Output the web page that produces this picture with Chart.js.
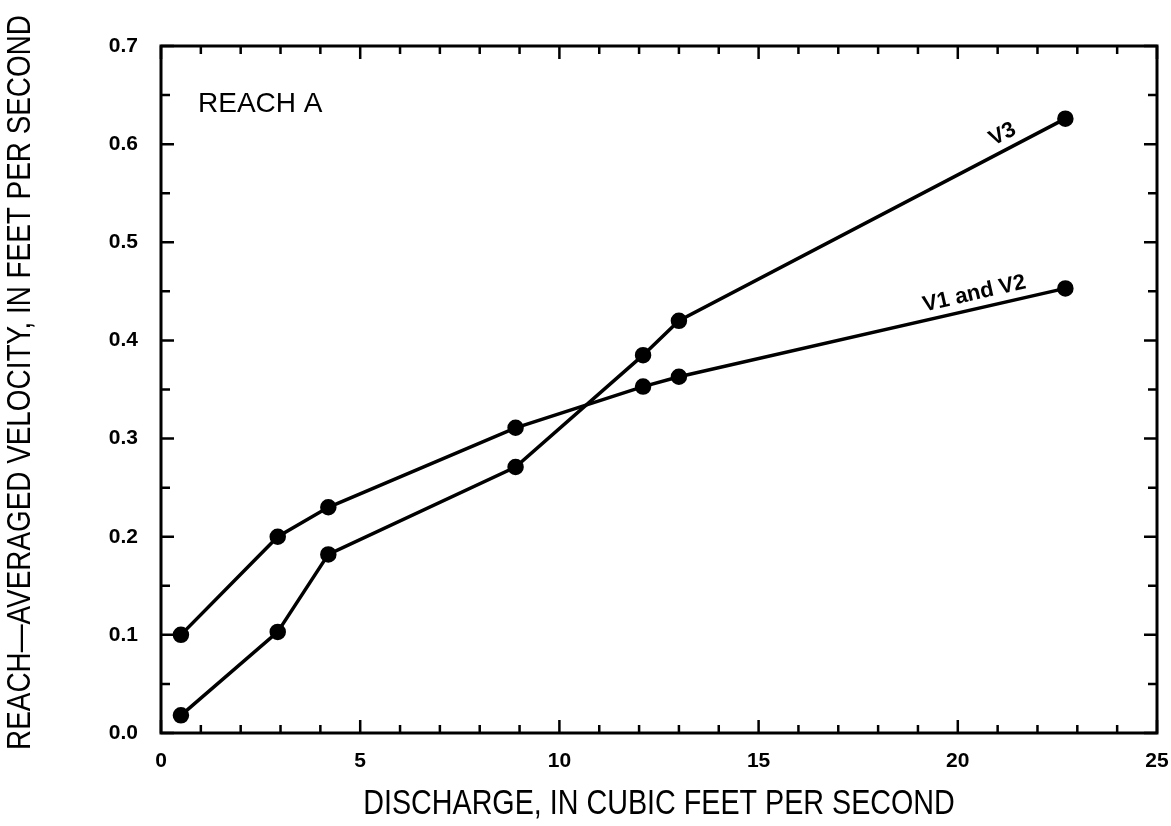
<!DOCTYPE html>
<html>
<head>
<meta charset="utf-8">
<script src="https://cdn.jsdelivr.net/npm/chart.js@4/dist/chart.umd.min.js"></script>
<style>
  html, body { margin: 0; padding: 0; background: #fff; }
  canvas { display: block; }
</style>
</head>
<body>
<canvas id="myChart" width="1171" height="826"></canvas>
<script>
// discharge (cfs) at the seven measured flows
const discharge = [0.5, 2.93, 4.2, 8.9, 12.1, 13.0, 22.7];
// reach-averaged velocity (ft/s)
const velocityV1V2 = [0.100, 0.200, 0.230, 0.311, 0.353, 0.363, 0.453];
const velocityV3 = [0.018, 0.103, 0.182, 0.271, 0.385, 0.420, 0.626];

const xTicks = [0, 5, 10, 15, 20, 25];
const yTicks = [0.0, 0.1, 0.2, 0.3, 0.4, 0.5, 0.6, 0.7];

const seriesNames = ['V1 and V2', 'V3'];
// where the curve labels sit along each line (discharge value)
const labelAt = [20.5, 21.3];

const xTitle = 'DISCHARGE, IN CUBIC FEET PER SECOND';
const yTitle = 'REACH\u2014AVERAGED VELOCITY, IN FEET PER SECOND';

const sansFont = '"Liberation Sans", Arial, sans-serif';

var ctx = document.getElementById('myChart').getContext('2d');

const toPoints = (ys) => discharge.map((x, i) => ({x: x, y: ys[i]}));

// frame + inward tick marks on all four sides
const frameTicks = {
    id: 'frameTicks',
    afterDatasetsDraw(chart) {
        const c = chart.ctx;
        const a = chart.chartArea;
        const xs = chart.scales.x, ys = chart.scales.y;
        c.save();
        c.strokeStyle = '#000';
        c.lineWidth = 3;
        c.lineCap = 'butt';
        c.strokeRect(a.left, a.top, a.right - a.left, a.bottom - a.top);

        c.lineWidth = 2.5;
        for (let v = 0; v <= 25; v++) {
            const len = v % 5 === 0 ? 13 : 8;
            const px = xs.getPixelForValue(v);
            c.beginPath();
            c.moveTo(px, a.bottom); c.lineTo(px, a.bottom - len);
            c.moveTo(px, a.top); c.lineTo(px, a.top + len);
            c.stroke();
        }
        for (let k = 0; k <= 14; k++) {
            const len = k % 2 === 0 ? 13 : 9;
            const py = ys.getPixelForValue(k * 0.05);
            c.beginPath();
            c.moveTo(a.left, py); c.lineTo(a.left + len, py);
            c.moveTo(a.right, py); c.lineTo(a.right - len, py);
            c.stroke();
        }
        c.restore();
    }
};

// condensed axis titles (no narrow face installed, so squeeze the regular one)
function narrowText(c, text, x, y, size, rot) {
    c.save();
    c.translate(x, y);
    c.rotate(rot);
    c.scale(0.82, 1);
    c.font = size + 'px ' + sansFont;
    c.textAlign = 'center';
    c.textBaseline = 'middle';
    c.fillText(text, 0, 0);
    c.restore();
}

// "REACH A", axis titles and the curve names written along the lines
const annotations = {
    id: 'annotations',
    afterDraw(chart) {
        const c = chart.ctx;
        const a = chart.chartArea;
        const xs = chart.scales.x, ys = chart.scales.y;
        c.save();
        c.fillStyle = '#000';

        narrowText(c, xTitle, (a.left + a.right) / 2, chart.height - 22, 35, 0);
        narrowText(c, yTitle, 21, (a.top + a.bottom) / 2 - 7, 34, -Math.PI / 2);

        c.font = '28px ' + sansFont;
        c.textBaseline = 'alphabetic';
        c.textAlign = 'left';
        c.fillText('REACH A', a.left + 37, a.top + 66);

        c.font = 'bold 22px ' + sansFont;
        c.textAlign = 'center';
        c.textBaseline = 'middle';
        const series = [velocityV1V2, velocityV3];
        series.forEach((vals, s) => {
            const xv = labelAt[s];
            let i = 0;
            while (i < discharge.length - 2 && discharge[i + 1] < xv) i++;
            const x0 = xs.getPixelForValue(discharge[i]), y0 = ys.getPixelForValue(vals[i]);
            const x1 = xs.getPixelForValue(discharge[i + 1]), y1 = ys.getPixelForValue(vals[i + 1]);
            const ang = Math.atan2(y1 - y0, x1 - x0);
            const px = xs.getPixelForValue(xv);
            const t = (px - x0) / (x1 - x0);
            const py = y0 + t * (y1 - y0);
            c.save();
            c.translate(px, py);
            c.rotate(ang);
            c.fillText(seriesNames[s], 0, -15);
            c.restore();
        });
        c.restore();
    }
};

const lineStyle = {
    borderColor: '#000',
    backgroundColor: '#000',
    borderWidth: 3.5,
    pointRadius: 6.5,
    pointHoverRadius: 6.5,
    showLine: true,
    fill: false,
    tension: 0
};

new Chart(ctx, {
    type: 'scatter',
    data: {
        datasets: [
            Object.assign({label: seriesNames[0], data: toPoints(velocityV1V2)}, lineStyle),
            Object.assign({label: seriesNames[1], data: toPoints(velocityV3)}, lineStyle)
        ]
    },
    options: {
        responsive: false,
        animation: false,
        layout: {padding: {top: 46, right: 14, left: 0, bottom: 0}},
        plugins: {legend: {display: false}, tooltip: {enabled: false}},
        scales: {
            x: {
                type: 'linear',
                min: 0,
                max: 25,
                afterFit: (scale) => {
                    scale.height = 93;
                    scale.paddingLeft = 0;
                    scale.paddingRight = 0;
                },
                afterBuildTicks: (scale) => { scale.ticks = xTicks.map(v => ({value: v})); },
                grid: {display: false, drawTicks: false},
                border: {display: false},
                ticks: {
                    color: '#000',
                    padding: 16,
                    maxRotation: 0,
                    font: {family: sansFont, size: 21, weight: 'bold'}
                }
            },
            y: {
                type: 'linear',
                min: 0,
                max: 0.7,
                afterFit: (scale) => {
                    scale.width = 161;
                    scale.paddingTop = 0;
                    scale.paddingBottom = 0;
                },
                afterBuildTicks: (scale) => { scale.ticks = yTicks.map(v => ({value: v})); },
                grid: {display: false, drawTicks: false},
                border: {display: false},
                ticks: {
                    color: '#000',
                    padding: 23,
                    callback: (v) => Number(v).toFixed(1),
                    font: {family: sansFont, size: 21, weight: 'bold'}
                }
            }
        }
    },
    plugins: [frameTicks, annotations]
});
</script>
</body>
</html>
